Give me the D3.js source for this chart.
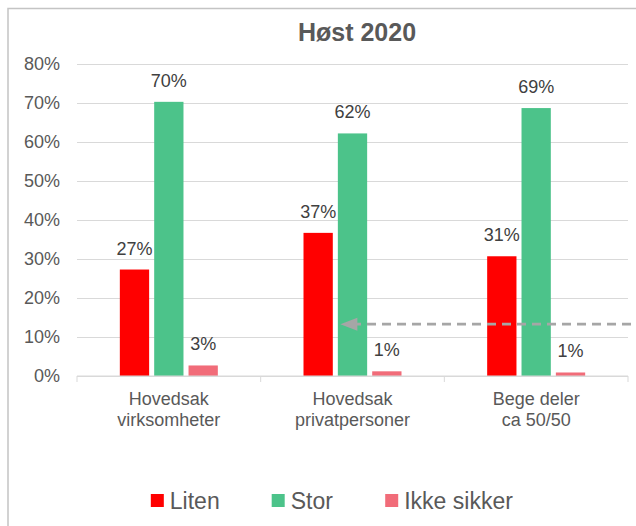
<!DOCTYPE html>
<html>
<head>
<meta charset="utf-8">
<script src="https://cdn.jsdelivr.net/npm/d3@7"></script>
<style>
  body { margin: 0; background: #fff; }
  svg { display: block; font-family: "Liberation Sans", Arial, sans-serif; }
</style>
</head>
<body>
<svg id="chart"></svg>
<script>
// data
const categories = [["Hovedsak", "virksomheter"], ["Hovedsak", "privatpersoner"], ["Bege deler", "ca 50/50"]];
const seriesNames = ["Liten", "Stor", "Ikke sikker"];
const liten = [0.273, 0.367, 0.307];
const stor = [0.703, 0.622, 0.687];
const ikkeSikker = [0.027, 0.012, 0.009];
const valueLabels = [["27%", "70%", "3%"], ["37%", "62%", "1%"], ["31%", "69%", "1%"]];
const yTicks = [0, 0.1, 0.2, 0.3, 0.4, 0.5, 0.6, 0.7, 0.8];
const title = "Høst 2020";
const arrowValue = 0.133;

const colors = ["#ff0000", "#4cc38a", "#f16c79"];

let width = 636;
let height = 526;
let margin = ({top: 64, right: 8, bottom: 150, left: 77});

const svg = d3.select("#chart")
    .attr("width", width)
    .attr("height", height);

// chart border (runs off the right and bottom edges)
svg.append("rect")
    .attr("x", 8)
    .attr("y", 8.5)
    .attr("width", 700)
    .attr("height", 600)
    .attr("fill", "none")
    .attr("stroke", "#c4c4c4")
    .attr("stroke-width", 1.5);

let x0 = d3.scaleBand()
    .domain(d3.range(categories.length))
    .range([margin.left, 628]);

const groupW = 98;
let x1 = d3.scaleBand()
    .domain(seriesNames)
    .range([0, groupW])
    .paddingInner(0.147);

let y = d3.scaleLinear()
    .domain([0, 0.8])
    .range([376, margin.top]);

// gridlines + y labels
const yAxis = g => g
    .attr("transform", `translate(${margin.left},0)`)
    .call(d3.axisLeft(y).tickValues(yTicks).tickFormat(d3.format(".0%"))
        .tickSize(-(628 - margin.left)).tickPadding(17))
    .call(g => g.select(".domain").remove())
    .call(g => g.selectAll(".tick line").attr("stroke", "#d9d9d9"))
    .call(g => g.selectAll(".tick text")
        .attr("fill", "#595959")
        .attr("font-size", 18)
        .attr("font-family", "Liberation Sans, Arial, sans-serif"));

svg.append("g").call(yAxis);

// bars
const rows = categories.map((c, i) => seriesNames.map((s, j) => ({
    cat: i,
    series: s,
    value: [liten, stor, ikkeSikker][j][i],
    label: valueLabels[i][j],
    color: colors[j]
})));

const groups = svg.append("g")
  .selectAll("g")
  .data(rows)
  .join("g")
    .attr("transform", (d, i) => `translate(${x0(i) + x0.bandwidth() / 2 - groupW / 2},0)`);

groups.selectAll("rect")
  .data(d => d)
  .join("rect")
    .attr("x", d => x1(d.series))
    .attr("y", d => y(d.value))
    .attr("width", x1.bandwidth())
    .attr("height", d => y(0) - y(d.value))
    .attr("fill", d => d.color);

groups.selectAll("text")
  .data(d => d)
  .join("text")
    .attr("x", d => x1(d.series) + x1.bandwidth() / 2)
    .attr("y", d => y(d.value) - 15)
    .attr("text-anchor", "middle")
    .attr("font-size", 18)
    .attr("fill", "#404040")
    .text(d => d.label);

// x axis
const xAxis = g => g
    .attr("transform", `translate(0,${y(0)})`)
    .call(d3.axisBottom(x0).tickSize(0).tickFormat(""))
    .call(g => g.select(".domain").attr("stroke", "#d9d9d9").attr("d", `M${margin.left},6V0H628V6`));

svg.append("g").call(xAxis);

// boundary tick marks between categories
svg.append("g")
  .selectAll("line")
  .data(d3.range(1, categories.length))
  .join("line")
    .attr("x1", i => x0(i)).attr("x2", i => x0(i))
    .attr("y1", y(0)).attr("y2", y(0) + 6)
    .attr("stroke", "#d9d9d9");

svg.append("g")
  .selectAll("text")
  .data(categories)
  .join("text")
    .attr("text-anchor", "middle")
    .attr("font-size", 18)
    .attr("fill", "#595959")
    .attr("transform", (d, i) => `translate(${x0(i) + x0.bandwidth() / 2},0)`)
  .selectAll("tspan")
  .data(d => d)
  .join("tspan")
    .attr("x", 0)
    .attr("y", (d, k) => 405 + k * 21)
    .text(d => d);

// title
svg.append("text")
    .attr("x", 357)
    .attr("y", 41)
    .attr("text-anchor", "middle")
    .attr("font-size", 25)
    .attr("font-weight", "bold")
    .attr("fill", "#595959")
    .text(title);

// dashed arrow annotation
const arrowY = y(arrowValue);
const tipX = x0(1) + x0.bandwidth() / 2 - groupW / 2 + x1("Stor") + 2.5;
svg.append("line")
    .attr("x1", width + 10)
    .attr("x2", tipX + 12)
    .attr("y1", arrowY)
    .attr("y2", arrowY)
    .attr("stroke", "#a6a6a6")
    .attr("stroke-width", 2.75)
    .attr("stroke-dasharray", "9,6");
svg.append("path")
    .attr("d", `M${tipX},${arrowY}L${tipX + 17},${arrowY - 6.5}L${tipX + 17},${arrowY + 6.5}Z`)
    .attr("fill", "#a6a6a6");

// legend
const legend = svg.append("g")
    .attr("font-size", 23)
    .attr("fill", "#595959");

const items = legend.selectAll("g")
  .data(seriesNames)
  .join("g");

items.append("rect")
    .attr("y", 494)
    .attr("width", 13)
    .attr("height", 13)
    .attr("fill", (d, i) => colors[i]);

items.append("text")
    .attr("x", 19)
    .attr("y", 509)
    .text(d => d);

let widths = [];
items.each(function() { widths.push(this.getBBox().width); });
const gap = 52;
const total = d3.sum(widths) + gap * (widths.length - 1);
let cur = 332 - total / 2;
items.attr("transform", (d, i) => {
    const t = `translate(${cur},0)`;
    cur += widths[i] + gap;
    return t;
});
</script>
</body>
</html>
